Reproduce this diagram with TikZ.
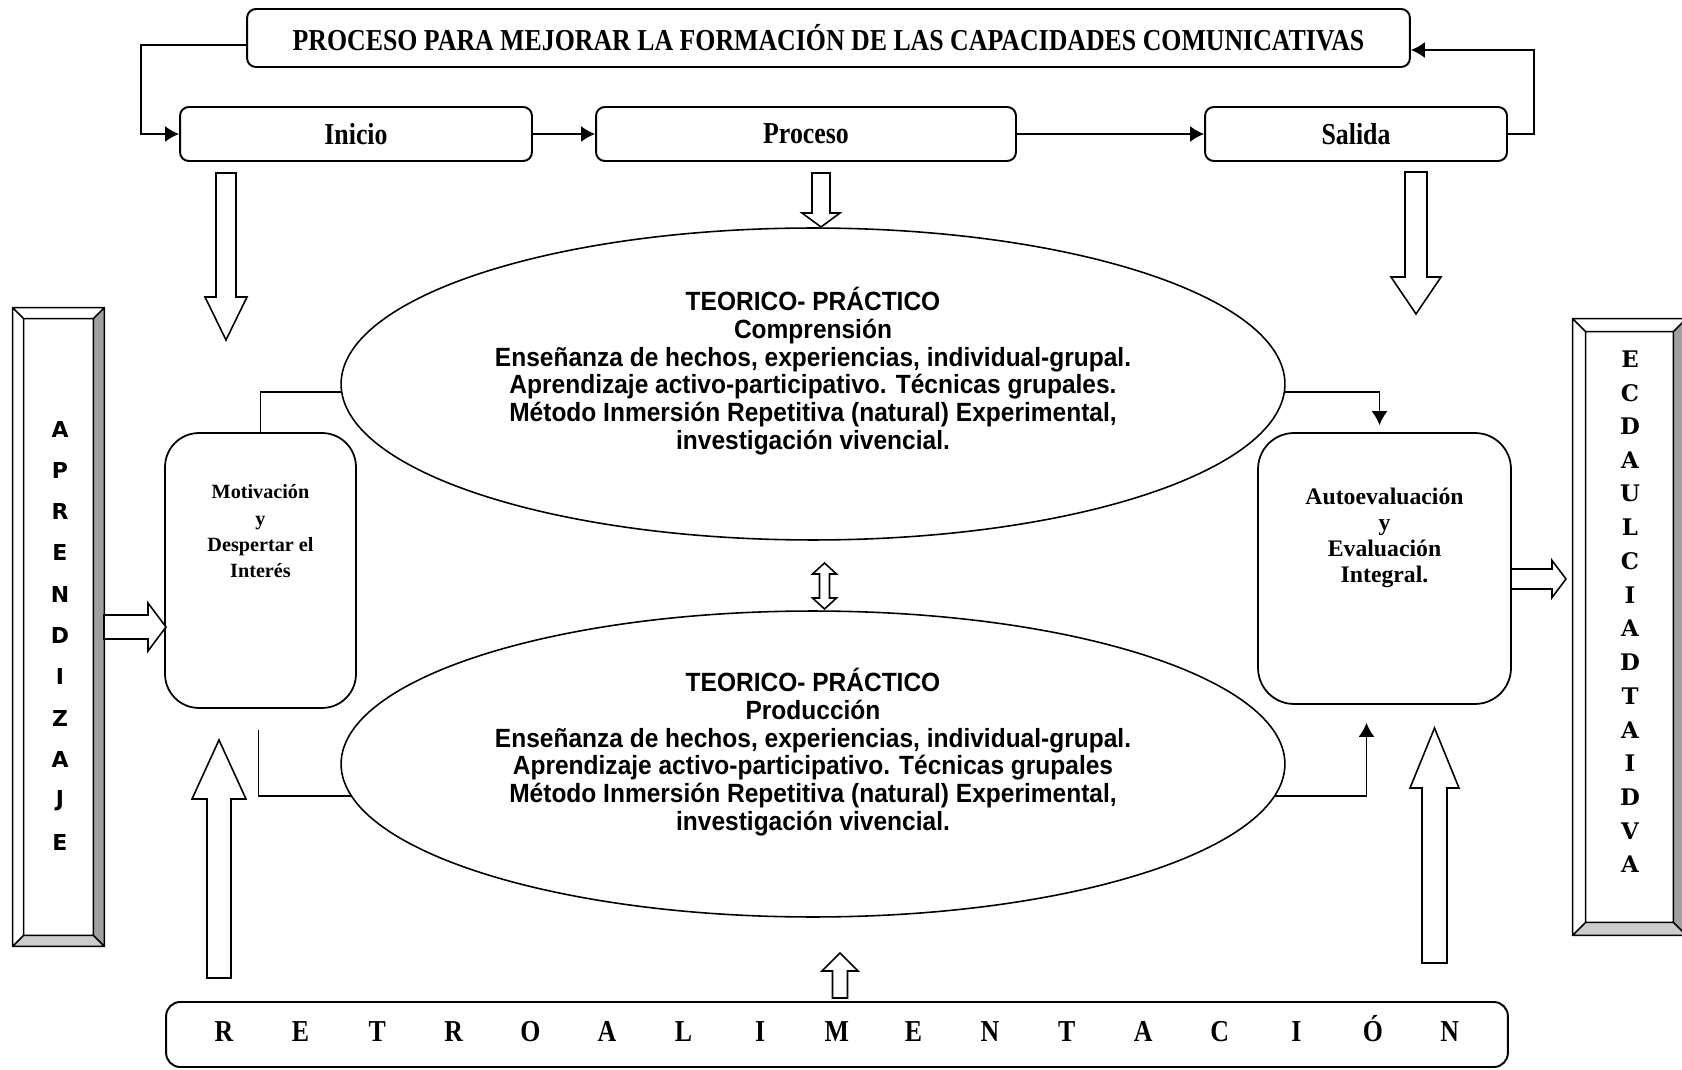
\documentclass[tikz,border=0pt]{standalone}
\usepackage{fontspec}
\setmainfont{Liberation Serif}
\newfontfamily\condserif[FakeStretch=0.85]{Liberation Serif}
\newfontfamily\condsans[FakeStretch=0.93]{Liberation Sans}
\newfontfamily\barsans{DejaVu Sans}
\newfontfamily\barserif{DejaVu Serif}
\usetikzlibrary{shapes.geometric,arrows.meta,calc,positioning}
\tikzset{
	>={Latex[length=2.8mm,width=3.2mm]},
	topbox/.style={draw,rounded corners=5pt,line width=1.1pt,inner sep=0pt,font=\condserif\bfseries\fontsize{17.3}{20}\selectfont},
	sidebox/.style={draw,rounded corners=0.68cm,line width=1pt,inner sep=0pt},
	sidetext/.style={align=center,font=\bfseries\fontsize{11.5}{15}\selectfont},
	ellip/.style={ellipse,draw,line width=0.9pt,inner sep=0pt,minimum width=18.88cm},
	ellitext/.style={align=center,font=\condsans\bfseries\fontsize{15}{15.8}\selectfont},
	fatarrow/.style={draw,fill=white,line width=0.9pt,line join=miter},
	conn/.style={line width=1pt},
	barbox/.style={rectangle,inner sep=0pt},
	retroletter/.style={anchor=base,font=\condserif\bfseries\fontsize{17.3}{20}\selectfont},
}
% block arrow, vertical: x, y start, y head base, y tip, half shaft, half head
\newcommand{\fatv}[6]{\draw[fatarrow] (#1-#5,#2) -- (#1-#5,#3) -- (#1-#6,#3) -- (#1,#4) -- (#1+#6,#3) -- (#1+#5,#3) -- (#1+#5,#2) -- cycle;}
% block arrow, horizontal: y, x start, x head base, x tip, half shaft, half head
\newcommand{\fath}[6]{\draw[fatarrow] (#2,#1-#5) -- (#3,#1-#5) -- (#3,#1-#6) -- (#4,#1) -- (#3,#1+#6) -- (#3,#1+#5) -- (#2,#1+#5) -- cycle;}
% bevelled frame round a node
\newcommand{\bevelbar}[2]{%
	\coordinate (#1-a) at ($(#1.north west)+(#2,#2)$);
	\coordinate (#1-b) at ($(#1.north east)+(-#2,#2)$);
	\coordinate (#1-c) at ($(#1.south east)+(-#2,-#2)$);
	\coordinate (#1-d) at ($(#1.south west)+(#2,-#2)$);
	\fill[gray!75] (#1.north east) -- (#1-b) -- (#1-c) -- (#1.south east) -- cycle;
	\fill[gray!40] (#1.south east) -- (#1-c) -- (#1-d) -- (#1.south west) -- cycle;
	\draw[line width=0.9pt] (#1.north west) rectangle (#1.south east) (#1-a) rectangle (#1-c)
		(#1.north west) -- (#1-a) (#1.north east) -- (#1-b) (#1.south east) -- (#1-c) (#1.south west) -- (#1-d);
}

\begin{document}
\begin{tikzpicture}[x=0.02cm,y=-0.02cm]
	\useasboundingbox (0,0) rectangle (1682,1070);

	% top row
	\node[topbox, minimum width=23.26cm, minimum height=1.16cm] (title) at (828.5,38) {PROCESO PARA MEJORAR LA FORMACIÓN DE LAS CAPACIDADES COMUNICATIVAS};
	\node[topbox, minimum width=7.04cm, minimum height=1.08cm] (inicio) at (356,134) {Inicio};
	\node[topbox, minimum width=8.4cm, minimum height=1.08cm] (proceso) at (806,134) {Proceso};
	\node[topbox, minimum width=6.04cm, minimum height=1.08cm] (salida) at (1356,134) {Salida};

	\draw[conn,->] ($(title.west)+(0,7)$) -- (141,45) |- (inicio.west);
	\draw[conn,->] (inicio) -- (proceso);
	\draw[conn,->] (proceso) -- (salida);
	\draw[conn,->] (salida.east) -- (1534,134) |- ($(title.east)+(0,12)$);

	% ellipses
	\node[ellip, minimum height=6.24cm] (teo1) at (813,384) {};
	\node[ellitext] (teo1txt) at ($(teo1.center)+(0,-13)$) {TEORICO- PRÁCTICO\\Comprensión\\Enseñanza de hechos, experiencias, individual-grupal.\\Aprendizaje activo-participativo. Técnicas grupales.\\Método Inmersión Repetitiva (natural) Experimental,\\investigación vivencial.};
	\node[ellip, minimum height=6.12cm] (teo2) at (813,764) {};
	\node[ellitext] (teo2txt) at ($(teo2.center)+(0,-12)$) {TEORICO- PRÁCTICO\\Producción\\Enseñanza de hechos, experiencias, individual-grupal.\\Aprendizaje activo-participativo. Técnicas grupales\\Método Inmersión Repetitiva (natural) Experimental,\\investigación vivencial.};

	% side boxes
	\node[sidebox, minimum width=3.82cm, minimum height=5.5cm] (motiv) at (260.5,570.5) {};
	\node[sidetext] (motivtxt) at ($(motiv.center)+(0,-39)$) {Motivación\\y\\Despertar el\\Interés};
	\node[sidebox, rounded corners=0.72cm, minimum width=5.06cm, minimum height=5.42cm] (autoev) at (1384.5,568.5) {};
	\node[sidetext, font=\bfseries\fontsize{13.5}{14.8}\selectfont] (autoevtxt) at ($(autoev.center)+(0,-31)$) {Autoevaluación\\y\\Evaluación\\Integral.};

	\draw[conn] (teo1.181) -| (motiv.north);
	\draw[conn] (teo2.184) -| ($(motiv.south)+(-2,21)$);
	\draw[conn,->] (teo1.-1) -| ($(autoev.north)+(-5,-7)$);
	\draw[conn,->] (teo2.-4) -| ($(autoev.south)+(-18,18)$);

	% bottom box
	\node[topbox, rounded corners=8pt, minimum width=26.84cm, minimum height=1.3cm] (retro) at (837,1034.5) {};
	\foreach \l [count=\i from 0] in {R,E,T,R,O,A,L,I,M,E,N,T,A,C,I,Ó,N}
		\node[retroletter] (retro\i) at (224+76.6*\i,1041) {\l};

	% bars
	\node[barbox, minimum width=1.82cm, minimum height=12.76cm] (aprend) at (58.5,627) {};
	\bevelbar{aprend}{11}
	\foreach \l [count=\i from 0] in {A,P,R,E,N,D,I,Z,A,J,E}
		\node[font=\barsans\bfseries\fontsize{12.5}{14}\selectfont] (ap\i) at (60,429+41.3*\i) {\l};
	\node[barbox, minimum width=2.26cm, minimum height=12.32cm] (educ) at (1629.5,627) {};
	\bevelbar{educ}{13}
	\foreach \l [count=\i from 0] in {E,C,D,A,U,L,C,I,A,D,T,A,I,D,V,A}
		\node[font=\barserif\bfseries\fontsize{13}{14}\selectfont] (ed\i) at (1630,359+33.7*\i) {\l};

	% block arrows
	\fatv{226}{173}{297}{340}{10}{21}
	\fatv{821}{173}{213}{227}{9}{19}
	\fatv{1416}{172}{277}{314}{11}{25}
	\fatv{219}{978}{799}{740}{12}{27}
	\fatv{1434.5}{963}{788}{728}{12.5}{24.5}
	\fatv{840}{998}{971}{953}{7.5}{18}
	\fath{627}{104}{148}{166}{12}{24}
	\fath{579}{1511}{1552}{1566}{10}{18.5}
	\draw[fatarrow] (819.5,574) -- (812.5,574) -- (824.5,563) -- (836.5,574) -- (829.5,574) -- (829.5,598) -- (836.5,598) -- (824.5,609) -- (812.5,598) -- (819.5,598) -- cycle;
\end{tikzpicture}
\end{document}
